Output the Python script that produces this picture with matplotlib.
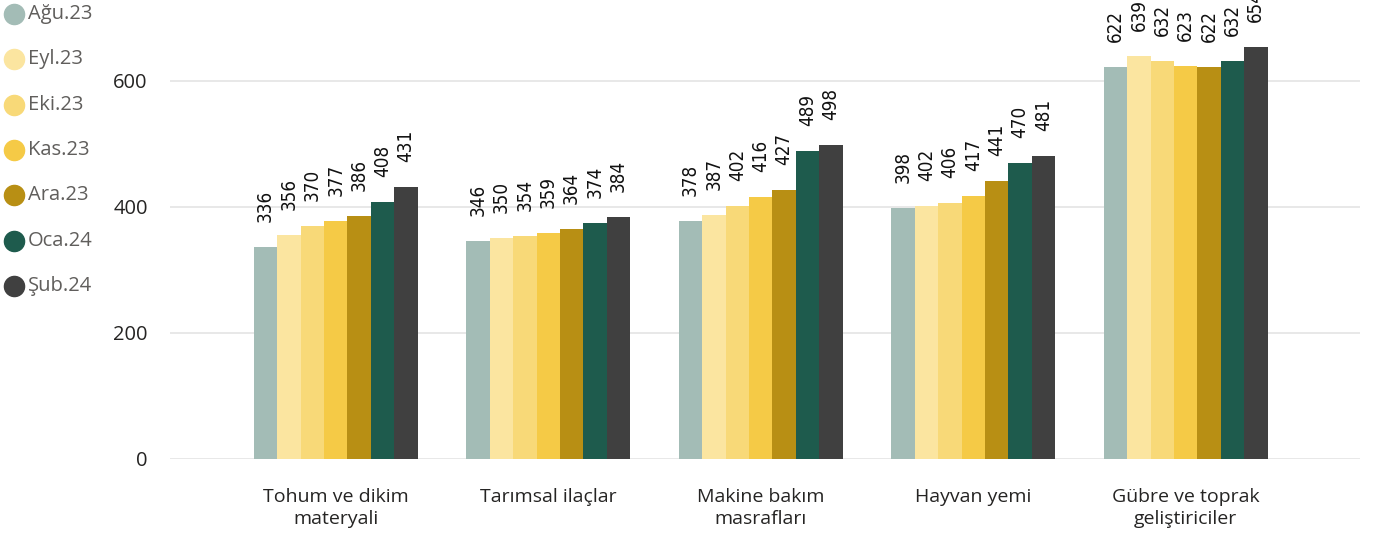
import matplotlib
matplotlib.use("Agg")
import matplotlib.pyplot as plt
from matplotlib.lines import Line2D
import numpy as np

categories = ["Tohum ve dikim\nmateryali", "Tarımsal ilaçlar", "Makine bakım\nmasrafları",
              "Hayvan yemi", "Gübre ve toprak\ngeliştiriciler"]
series = ["Ağu.23", "Eyl.23", "Eki.23", "Kas.23", "Ara.23", "Oca.24", "Şub.24"]
colors = ["#A3BCB6", "#FBE5A0", "#F8D978", "#F5CA46", "#B88F14", "#1E5B4D", "#404040"]
agu23 = [336, 346, 378, 398, 622]
eyl23 = [356, 350, 387, 402, 639]
eki23 = [370, 354, 402, 406, 632]
kas23 = [377, 359, 416, 417, 623]
ara23 = [386, 364, 427, 441, 622]
oca24 = [408, 374, 489, 470, 632]
sub24 = [431, 384, 498, 481, 654]
values = [agu23, eyl23, eki23, kas23, ara23, oca24, sub24]
yticks = [0, 200, 400, 600]

plt.rcParams['font.family'] = ['Open Sans', 'DejaVu Sans']

W, H = 1374, 540
fig = plt.figure(figsize=(W / 100, H / 100), dpi=100)
ax = fig.add_axes([170 / W, 81 / H, (1360 - 170) / W, 459 / H])

x = np.arange(len(categories))
n = len(series)
bw = 0.77 / n
for i, (s, c, v) in enumerate(zip(series, colors, values)):
    xs = x + (i - (n - 1) / 2) * bw
    ax.bar(xs, v, width=bw, color=c, zorder=3, linewidth=0)
    for xx, vv in zip(xs, v):
        ax.annotate(str(vv), (xx, vv), xytext=(0, 18), textcoords="offset points",
                    rotation=90, ha="center", va="bottom", fontsize=13.5,
                    family="DejaVu Sans", fontstretch="condensed", color="#111111")

ax.set_xlim(-0.78, 4.82)
ax.set_ylim(0, 728)
ax.set_yticks(yticks)
ax.set_yticklabels([str(t) for t in yticks], fontsize=14.5, color="#252423")
ax.grid(axis="y", color="#E6E6E6", linewidth=1.3, zorder=0)
ax.set_xticks(x)
ax.set_xticklabels(categories, fontsize=14, color="#252423", linespacing=1.3)
ax.tick_params(axis="x", length=0, pad=21)
ax.tick_params(axis="y", length=0, pad=16)
for sp in ax.spines.values():
    sp.set_visible(False)

# legend
for i, (s, c) in enumerate(zip(series, colors)):
    yc = 1 - (14 + 45.3 * i) / H
    fig.add_artist(Line2D([14 / W], [yc], marker="o", linestyle="none", markersize=14.5,
                          markerfacecolor=c, markeredgecolor=c, transform=fig.transFigure))
    fig.text(28 / W, yc, s, fontsize=14.5, color="#605E5C", ha="left", va="center")

fig.savefig("out.png", dpi=100)
